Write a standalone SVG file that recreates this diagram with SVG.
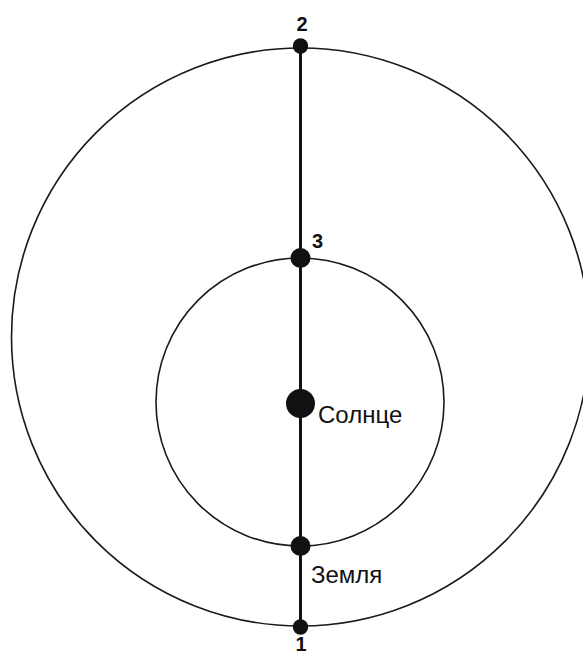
<svg xmlns="http://www.w3.org/2000/svg" width="583" height="657" viewBox="0 0 583 657">
<style>
.orbit{fill:none;stroke:#1a1a1a;stroke-width:1.6}
.axis{stroke:#111;stroke-width:3}
.dot{fill:#111}
.num{font-family:"Liberation Sans",Arial,sans-serif;font-weight:bold;font-size:20px;fill:#111}
.lbl{font-family:"Liberation Sans",Arial,sans-serif;font-size:24px;fill:#111}
</style>
<rect width="583" height="657" fill="#fff"/>
<g id="orbits">
<circle id="outer-orbit" class="orbit" cx="300.5" cy="337" r="289"/>
<circle id="inner-orbit" class="orbit" cx="300" cy="402" r="144"/>
</g>
<g id="connectors">
<line class="axis" x1="300.5" y1="46" x2="300.5" y2="627"/>
</g>
<g id="node-2"><circle class="dot" cx="300.5" cy="46" r="7.7"/><text class="num" x="302" y="31" text-anchor="middle">2</text></g>
<g id="node-3"><circle class="dot" cx="300.5" cy="258" r="10"/><text class="num" x="312" y="248">3</text></g>
<g id="node-sun"><circle class="dot" cx="300.5" cy="403.5" r="14.5"/><text class="lbl" x="318" y="423">Солнце</text></g>
<g id="node-earth"><circle class="dot" cx="300.5" cy="546" r="10"/><text class="lbl" x="311" y="583">Земля</text></g>
<g id="node-1"><circle class="dot" cx="300.5" cy="627" r="7.7"/><text class="num" x="301" y="651" text-anchor="middle">1</text></g>
</svg>
